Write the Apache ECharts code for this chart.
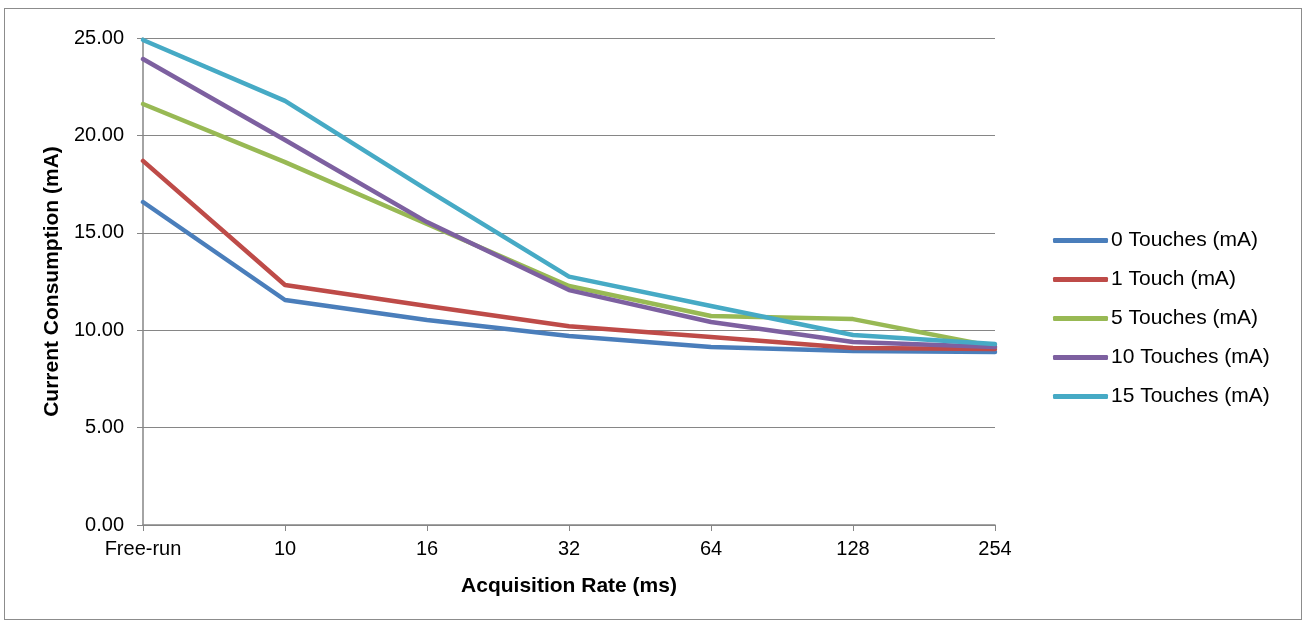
<!DOCTYPE html>
<html><head><meta charset="utf-8">
<script src="https://cdn.jsdelivr.net/npm/echarts@6/dist/echarts.min.js"></script>
<style>html,body{margin:0;padding:0;background:#fff}#c{width:1306px;height:624px}
#frame{position:absolute;left:4px;top:8px;width:1296px;height:610px;border:1.5px solid #8c8c8c;pointer-events:none}</style>
</head><body><div id="c"></div><div id="frame"></div>
<script>
const categories = ['Free-run','10','16','32','64','128','254'];
const seriesNames = ['0 Touches (mA)','1 Touch (mA)','5 Touches (mA)','10 Touches (mA)','15 Touches (mA)'];
const touches0  = [16.58, 11.55, 10.52, 9.70, 9.14, 8.93, 8.88];
const touches1  = [18.69, 12.32, 11.24, 10.20, 9.65, 9.09, 9.03];
const touches5  = [21.61, 18.63, 15.45, 12.27, 10.73, 10.57, 9.15];
const touches10 = [23.92, 19.76, 15.55, 12.06, 10.42, 9.39, 9.14];
const touches15 = [24.90, 21.77, 17.20, 12.75, 11.24, 9.75, 9.29];
const colors = ['#4A7EBB','#BE4B48','#98B954','#7D60A0','#46AAC5'];
const allData = [touches0, touches1, touches5, touches10, touches15];

const chart = echarts.init(document.getElementById('c'));
const font = 'Liberation Sans, Arial, sans-serif';
const fs = 20;
chart.setOption({
  animation: false,
  textStyle: {fontFamily: font},
  grid: {left: 143, right: 311, top: 38, bottom: 99, containLabel: false},
  legend: {
    orient: 'vertical', left: 1053, top: 230, padding: 0, icon: 'roundRect',
    itemWidth: 55, itemHeight: 5, itemGap: 18,
    textStyle: {fontSize: 21, color: '#000', fontFamily: font, padding: [0,0,0,-2]},
    data: seriesNames
  },
  xAxis: {
    type: 'category', data: categories, boundaryGap: false,
    axisLine: {lineStyle: {color: '#868686', width: 1.5}},
    axisTick: {show: true, alignWithLabel: true, length: 6, lineStyle: {color: '#868686'}},
    axisLabel: {fontSize: fs, color: '#000', margin: 14, fontFamily: font},
    name: 'Acquisition Rate (ms)', nameLocation: 'middle', nameGap: 51,
    nameTextStyle: {fontSize: 21, fontWeight: 'bold', color: '#000', fontFamily: font}
  },
  yAxis: {
    type: 'value', min: 0, max: 25, interval: 5,
    axisLine: {show: true, lineStyle: {color: '#868686', width: 1.5}},
    axisTick: {show: true, length: 6, lineStyle: {color: '#868686'}},
    splitLine: {lineStyle: {color: '#868686', width: 1}},
    axisLabel: {fontSize: fs, color: '#000', margin: 19, fontFamily: font, formatter: v => v.toFixed(2)},
    name: 'Current Consumption (mA)', nameLocation: 'middle', nameGap: 79, nameRotate: 90,
    nameTextStyle: {fontSize: 21, fontWeight: 'bold', color: '#000', fontFamily: font}
  },
  series: seriesNames.map((n, i) => ({
    name: n, type: 'line', data: allData[i], symbol: 'none', showSymbol: false,
    lineStyle: {width: 4.5, color: colors[i], cap: 'round', join: 'round'},
    itemStyle: {color: colors[i]}
  }))
});
</script></body></html>
